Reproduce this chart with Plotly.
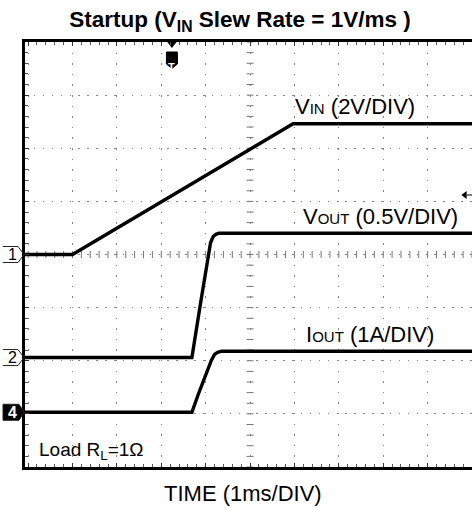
import plotly.graph_objects as go

# ---- data (physical units) ----
time_vin = [-1.07, 0.0, 4.97, 9.0]          # ms
vin_volts = [0.0, 0.0, 4.92, 4.92]          # V
time_vout = [-1.07, 2.69, 2.88, 3.06, 3.11, 3.17, 3.23, 3.30, 9.0]
vout_volts = [0.0, 0.0, 0.50, 0.98, 1.08, 1.14, 1.16, 1.17, 1.17]
time_iout = [-1.07, 2.69, 2.83, 2.98, 3.13, 3.20, 3.27, 3.36, 9.0]
iout_amps = [0.0, 0.0, 0.33, 0.67, 0.98, 1.09, 1.13, 1.15, 1.15]

# channel settings: (offset in divisions, units per division)
ch1 = (0.0, 2.0)     # VIN 2V/DIV
ch2 = (-1.94, 0.5)   # VOUT 0.5V/DIV
ch4 = (-2.97, 1.0)   # IOUT 1A/DIV
trigger_time = 2.24
trigger_level_div = 1.12

FONT = "Liberation Sans, Arial, Helvetica, sans-serif"

def to_div(vals, ch):
    off, scale = ch
    return [off + v / scale for v in vals]

fig = go.Figure()

# center-line tick marks (scope graticule)
minor_x = [i * 0.2 for i in range(-5, 46)]
minor_y = [j * 0.2 for j in range(-20, 21)]
fig.add_trace(go.Scatter(x=minor_x, y=[0] * len(minor_x), mode="markers",
                         marker=dict(symbol="line-ns", size=5, line=dict(width=1, color="#777")),
                         hoverinfo="skip", showlegend=False))
fig.add_trace(go.Scatter(x=[4] * len(minor_y), y=minor_y, mode="markers",
                         marker=dict(symbol="line-ew", size=5, line=dict(width=1, color="#777")),
                         hoverinfo="skip", showlegend=False))

for t, v, ch in [(time_vin, vin_volts, ch1), (time_vout, vout_volts, ch2), (time_iout, iout_amps, ch4)]:
    fig.add_trace(go.Scatter(x=t, y=to_div(v, ch), mode="lines",
                             line=dict(color="black", width=3.4),
                             hoverinfo="skip", showlegend=False))

# trigger marker at top border
fig.add_trace(go.Scatter(x=[trigger_time], y=[4.0], mode="markers",
                         marker=dict(symbol="triangle-down", size=12, color="black"),
                         cliponaxis=False, hoverinfo="skip", showlegend=False))
# trigger level arrow at right
fig.add_trace(go.Scatter(x=[8.84], y=[trigger_level_div], mode="markers",
                         marker=dict(symbol="triangle-left", size=7, color="black"),
                         cliponaxis=False, hoverinfo="skip", showlegend=False))

axis_common = dict(showticklabels=False, showline=True, linecolor="black", linewidth=3,
                   zeroline=False, dtick=1, tick0=0, ticks="inside", ticklen=4,
                   tickcolor="#333", tickwidth=1)

fig.update_xaxes(range=[-1.07, 9.0], mirror="ticks", showgrid=True, gridcolor="#888",
                 gridwidth=1, griddash="1.5px,9.1px",
                 minor=dict(dtick=0.2, ticks="inside", ticklen=3, tickcolor="#555", showgrid=False),
                 **axis_common)
fig.update_yaxes(range=[-4, 4], mirror=False, showgrid=True, gridcolor="#888",
                 gridwidth=1, griddash="1.5px,7.4px",
                 minor=dict(dtick=0.2, ticks="inside", ticklen=3, tickcolor="#555", showgrid=False),
                 **axis_common)

# channel markers on the left
shapes = []
annotations = []
for label, ch, filled in [("1", ch1, False), ("2", ch2, False), ("4", ch4, True)]:
    if filled:
        path = "M -22,8 L -6,8 L -1,0 L -6,-8 L -22,-8 Z"
    else:
        path = "M -22,8 L -7,8 L -1,0 L -7,-8 L -22,-8"
    shapes.append(dict(type="path", xref="paper", yref="y", xsizemode="pixel", ysizemode="pixel",
                       xanchor=0, yanchor=ch[0], path=path,
                       line=dict(color="#222", width=1),
                       fillcolor="black" if filled else "rgba(0,0,0,0)"))
    annotations.append(dict(x=0, y=ch[0], xref="paper", yref="y", xshift=-13,
                            text="<b>" + label + "</b>" if filled else label,
                            showarrow=False, font=dict(family=FONT, size=16, color="white" if filled else "black"),
                            xanchor="center", yanchor="middle"))

def px(xp):
    return (xp - 25) / 447.0

def py(yp):
    return (467 - yp) / 425.0

# trigger shield
shapes.append(dict(type="path", xref="x", yref="paper", xsizemode="pixel", ysizemode="pixel",
                   xanchor=trigger_time, yanchor=py(60), layer="below",
                   path="M -5.5,8 L 5.5,8 L 5.5,-4 L 0,-8.5 L -5.5,-4 Z",
                   line=dict(color="black", width=1), fillcolor="black"))
# trigger level line
shapes.append(dict(type="line", xref="x", yref="y", x0=8.88, x1=9.0,
                   y0=trigger_level_div, y1=trigger_level_div, line=dict(color="black", width=1)))

fig.update_layout(shapes=shapes)

annotations += [
    dict(x=trigger_time, y=py(59), xref="x", yref="paper", text="<b>T</b>", showarrow=False,
         font=dict(family=FONT, size=11, color="white")),
    dict(x=px(293), y=py(106), xref="paper", yref="paper", xanchor="left", yanchor="middle",
         text="V<span style='font-size:15px'>IN</span> (2V/DIV)", showarrow=False,
         font=dict(family=FONT, size=22, color="black")),
    dict(x=px(301), y=py(216), xref="paper", yref="paper", xanchor="left", yanchor="middle",
         text="V<span style='font-size:15px'>OUT</span> (0.5V/DIV)", showarrow=False,
         font=dict(family=FONT, size=22, color="black")),
    dict(x=px(304), y=py(334), xref="paper", yref="paper", xanchor="left", yanchor="middle",
         text="I<span style='font-size:15px'>OUT</span> (1A/DIV)", showarrow=False,
         font=dict(family=FONT, size=22, color="black")),
    dict(x=px(37), y=py(451), xref="paper", yref="paper", xanchor="left", yanchor="middle",
         text="Load R<sub>L</sub>=1Ω", showarrow=False,
         font=dict(family=FONT, size=19, color="black")),
    dict(x=px(243), y=py(493), xref="paper", yref="paper", xanchor="center", yanchor="middle",
         text="TIME (1ms/DIV)", showarrow=False,
         font=dict(family=FONT, size=22, color="black")),
]

fig.update_layout(
    width=472, height=508,
    margin=dict(l=25, r=0, t=42, b=41),
    paper_bgcolor="white", plot_bgcolor="white",
    title=dict(text="<b>Startup (V<sub>IN</sub> Slew Rate = 1V/ms )</b>", x=240 / 472, xanchor="center",
               y=1 - 19 / 508, yanchor="middle", font=dict(family=FONT, size=22.5, color="black")),
    annotations=annotations,
    showlegend=False,
)

fig.write_html("out.html", config={"displayModeBar": False},
               post_script="document.body.style.margin='0px';document.body.style.padding='0px';")
